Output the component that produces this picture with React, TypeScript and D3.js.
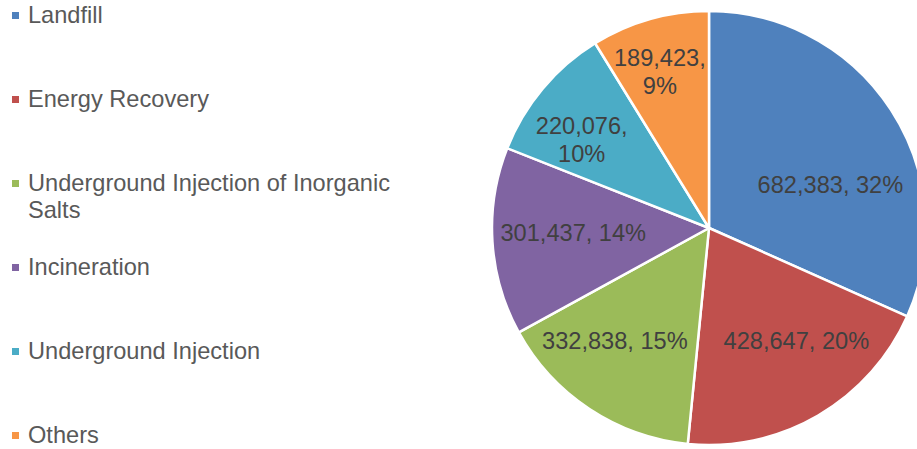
import React, { useMemo } from "react";
import * as d3 from "d3";

const categories = [
  "Landfill",
  "Energy Recovery",
  "Underground Injection of Inorganic Salts",
  "Incineration",
  "Underground Injection",
  "Others",
];
const values = [682383, 428647, 332838, 301437, 220076, 189423];
const colors = ["#4F81BD", "#C0504D", "#9BBB59", "#8064A2", "#4BACC6", "#F79646"];
// label nudges relative to the centroid (layout only)
const labelNudge: [number, number][] = [
  [4, 33],
  [17, -8],
  [-17, -4],
  [4, -4],
  [-20, 2],
  [-11, -22],
];
// label line breaks (which labels wrap into two lines)
const labelWrap = [false, false, false, false, true, true];

const W = 917;
const H = 449;
const CX = 709;
const CY = 228;
const R = 217;
const FONT = "'Liberation Sans', Arial, sans-serif";
const FS = 23.6;

function wrapText(text: string, maxW: number, font: string): string[] {
  const canvas = document.createElement("canvas");
  const ctx = canvas.getContext("2d")!;
  ctx.font = font;
  const words = text.split(" ");
  const lines: string[] = [];
  let cur = "";
  for (const w of words) {
    const t = cur ? cur + " " + w : w;
    if (ctx.measureText(t).width > maxW && cur) {
      lines.push(cur);
      cur = w;
    } else cur = t;
  }
  if (cur) lines.push(cur);
  return lines;
}

export default function App() {
  const total = d3.sum(values);
  const arcs = useMemo(
    () =>
      d3
        .pie<number>()
        .sort(null)
        .startAngle(0)
        .endAngle(2 * Math.PI)(values),
    []
  );
  const arcGen = d3.arc<d3.PieArcDatum<number>>().innerRadius(0).outerRadius(R);
  const labelArc = d3.arc<d3.PieArcDatum<number>>().innerRadius(140).outerRadius(140);
  const fmt = d3.format(",");
  const legendY = d3.scalePoint<number>().domain(d3.range(categories.length)).range([23, 443]);

  return (
    <svg
      width={W}
      height={H}
      style={{ position: "absolute", left: 0, top: 0, background: "#fff" }}
      fontFamily={FONT}
    >
      <g>
        {categories.map((c, i) => {
          const y = legendY(i)!;
          const lines = wrapText(c, 375, `${FS}px ${FONT}`);
          return (
            <g key={c}>
              <rect x={12} y={y - 11} width={7} height={7} fill={colors[i]} />
              <text x={28} y={y} fontSize={FS} fill="#595959">
                {lines.map((l, k) => (
                  <tspan key={k} x={28} dy={k === 0 ? 0 : 27}>
                    {l}
                  </tspan>
                ))}
              </text>
            </g>
          );
        })}
      </g>
      <g transform={`translate(${CX},${CY})`}>
        {arcs.map((a, i) => (
          <path key={i} d={arcGen(a)!} fill={colors[i]} stroke="#fff" strokeWidth={2.5} strokeLinejoin="round" />
        ))}
        {arcs.map((a, i) => {
          const [x, y] = labelArc.centroid(a);
          const lx = x + labelNudge[i][0];
          const ly = y + labelNudge[i][1];
          const pct = Math.round((values[i] / total) * 100) + "%";
          const lines = labelWrap[i] ? [fmt(values[i]) + ",", pct] : [fmt(values[i]) + ", " + pct];
          const lh = 28;
          const y0 = ly - ((lines.length - 1) * lh) / 2;
          return (
            <text key={i} textAnchor="middle" fontSize={FS} fill="#404040">
              {lines.map((l, k) => (
                <tspan key={k} x={lx} y={y0 + k * lh} dy="0.35em">
                  {l}
                </tspan>
              ))}
            </text>
          );
        })}
      </g>
    </svg>
  );
}
